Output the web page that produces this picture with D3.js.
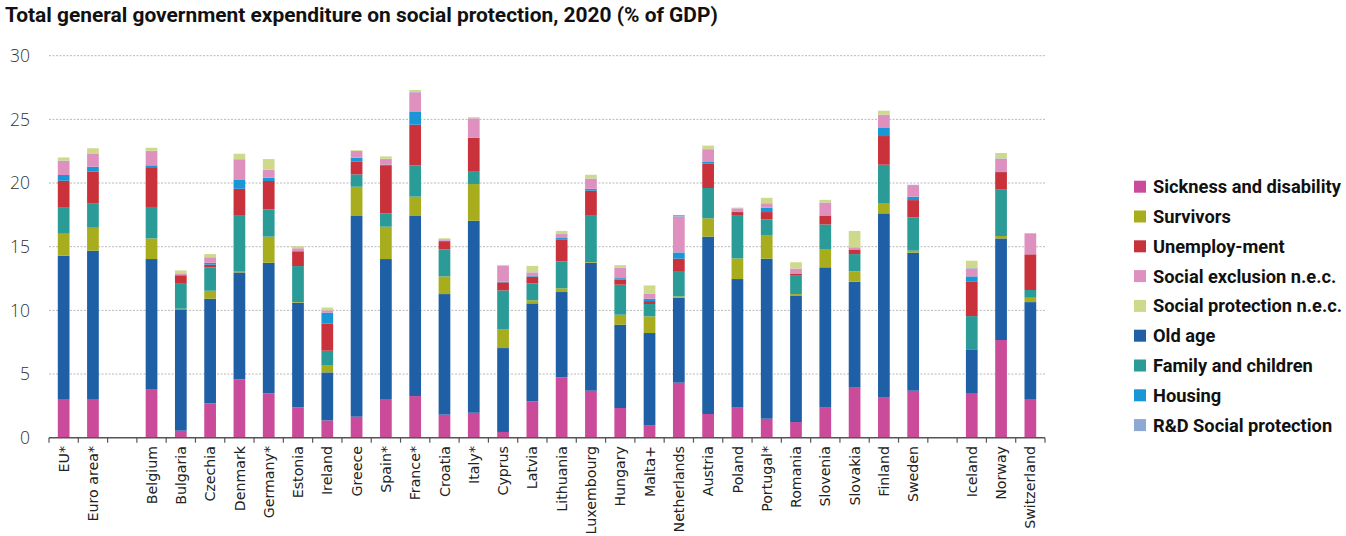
<!DOCTYPE html>
<html>
<head>
<meta charset="utf-8">
<script src="https://cdn.jsdelivr.net/npm/d3@7"></script>
<style>
  html, body { margin: 0; padding: 0; background: #fff; }
  svg { display: block; }
</style>
</head>
<body>
<svg id="chart" width="1346" height="536"></svg>
<script>
// ---------------- DATA ----------------
const title = "Total general government expenditure on social protection, 2020 (% of GDP)";
const countries = ["EU*", "Euro area*", "Belgium", "Bulgaria", "Czechia", "Denmark", "Germany*", "Estonia", "Ireland", "Greece", "Spain*", "France*", "Croatia", "Italy*", "Cyprus", "Latvia", "Lithuania", "Luxembourg", "Hungary", "Malta+", "Netherlands", "Austria", "Poland", "Portugal*", "Romania", "Slovenia", "Slovakia", "Finland", "Sweden", "Iceland", "Norway", "Switzerland"];
// empty slots are inserted before these countries
const gapsBefore = ["Belgium", "Iceland"];
const yTicks = [0, 5, 10, 15, 20, 25, 30];

const sickness     = [3.04, 3.04, 3.82, 0.55, 2.70, 4.58, 3.48, 2.38, 1.36, 1.65, 3.04, 3.27, 1.81, 1.96, 0.45, 2.85, 4.74, 3.69, 2.33, 0.99, 4.32, 1.86, 2.36, 1.49, 1.23, 2.36, 3.93, 3.19, 3.69, 3.51, 7.67, 3.04];
const oldAge       = [11.25, 11.65, 10.21, 9.53, 8.22, 8.40, 10.26, 8.22, 3.77, 15.76, 10.99, 14.14, 9.47, 15.08, 6.59, 7.70, 6.70, 10.05, 6.54, 7.23, 6.67, 13.93, 10.10, 12.57, 9.90, 11.02, 8.32, 14.43, 10.84, 3.43, 7.98, 7.61];
const survivors    = [1.73, 1.80, 1.62, 0.05, 0.62, 0.11, 2.05, 0.05, 0.58, 2.30, 2.54, 1.52, 1.39, 2.88, 1.49, 0.24, 0.29, 0.05, 0.79, 1.31, 0.11, 1.44, 1.62, 1.86, 0.15, 1.44, 0.81, 0.76, 0.16, 0.00, 0.19, 0.34];
const family       = [2.04, 1.89, 2.47, 1.96, 1.84, 4.34, 2.14, 2.83, 1.12, 0.97, 1.05, 2.46, 2.12, 1.02, 3.04, 1.33, 2.12, 3.64, 2.36, 0.97, 1.99, 2.38, 3.35, 1.23, 1.49, 1.93, 1.36, 3.06, 2.61, 2.61, 3.64, 0.61];
const unemployment = [2.12, 2.51, 3.06, 0.66, 0.21, 2.12, 2.23, 1.15, 2.12, 1.02, 3.72, 3.19, 0.58, 2.62, 0.63, 0.52, 1.73, 1.97, 0.41, 0.23, 0.97, 1.93, 0.29, 0.57, 0.11, 0.66, 0.32, 2.25, 1.36, 2.73, 1.38, 2.80];
const housing      = [0.45, 0.39, 0.21, 0.02, 0.15, 0.69, 0.26, 0.03, 0.87, 0.29, 0.10, 1.00, 0.10, 0.00, 0.05, 0.05, 0.10, 0.15, 0.10, 0.19, 0.49, 0.11, 0.05, 0.34, 0.03, 0.05, 0.05, 0.68, 0.27, 0.39, 0.05, 0.00];
const exclusion    = [1.10, 1.02, 1.12, 0.13, 0.42, 1.62, 0.60, 0.21, 0.18, 0.52, 0.44, 1.54, 0.11, 1.52, 1.26, 0.29, 0.31, 0.79, 0.82, 0.39, 2.81, 0.99, 0.24, 0.34, 0.37, 1.00, 0.16, 0.97, 0.91, 0.60, 1.00, 1.65];
const rdSocial     = [0.03, 0.03, 0.02, 0.01, 0.02, 0.02, 0.02, 0.01, 0.01, 0.01, 0.02, 0.03, 0.01, 0.01, 0.01, 0.01, 0.01, 0.02, 0.02, 0.02, 0.13, 0.03, 0.01, 0.02, 0.01, 0.02, 0.01, 0.03, 0.02, 0.05, 0.03, 0.00];
const spNec        = [0.25, 0.40, 0.24, 0.23, 0.24, 0.42, 0.84, 0.16, 0.21, 0.06, 0.19, 0.16, 0.07, 0.08, 0.05, 0.50, 0.24, 0.29, 0.18, 0.63, 0.00, 0.27, 0.05, 0.42, 0.49, 0.20, 1.28, 0.31, 0.00, 0.58, 0.42, 0.00];

// series: key, legend label, values, colour (stack order = array order)
const series = [
  {key: "sickness",     label: "Sickness and disability",  values: sickness,     color: "#cb4b9b"},
  {key: "oldAge",       label: "Old age",                  values: oldAge,       color: "#1f5fa6"},
  {key: "survivors",    label: "Survivors",                values: survivors,    color: "#a7ad1d"},
  {key: "family",       label: "Family and children",      values: family,       color: "#2b9b97"},
  {key: "unemployment", label: "Unemploy-ment",            values: unemployment, color: "#c9313b"},
  {key: "housing",      label: "Housing",                  values: housing,      color: "#1896d6"},
  {key: "exclusion",    label: "Social exclusion n.e.c.",  values: exclusion,    color: "#de90bf"},
  {key: "rd",           label: "R&D Social protection",    values: rdSocial,     color: "#8ea7d3"},
  {key: "spNec",        label: "Social protection n.e.c.", values: spNec,        color: "#cfd98c"}
];
const legendOrder = ["sickness", "survivors", "unemployment", "exclusion", "spNec", "oldAge", "family", "housing", "rd"];

// ---------------- BUILD ----------------
const slots = [];
countries.forEach((c, i) => {
  if (gapsBefore.includes(c)) slots.push({id: "gap" + slots.length, label: "", idx: -1});
  slots.push({id: c, label: c, idx: i});
});

const rows = countries.map((c, i) => {
  const r = {country: c};
  series.forEach(s => r[s.key] = s.values[i]);
  return r;
});

const svg = d3.select("#chart");
const plotLeft = 49, plotRight = 1045, plotTop = 55.7, plotBottom = 437.7;

const x = d3.scaleBand()
  .domain(slots.map(s => s.id))
  .range([plotLeft, plotRight])
  .paddingInner(0.6)
  .paddingOuter(0.3);
const y = d3.scaleLinear().domain([0, 30]).range([plotBottom, plotTop]);

// title
const titleText = svg.append("text")
  .attr("x", 5).attr("y", 22)
  .attr("font-family", "Roboto, 'Open Sans', sans-serif")
  .attr("font-weight", 700)
  .attr("font-size", 17)
  .attr("fill", "#111")
  .text(title);
{
  const w = titleText.node().getComputedTextLength();
  titleText.attr("font-size", 17 * 713 / w);
}

// gridlines
svg.append("g").selectAll("line")
  .data(yTicks.filter(t => t > 0))
  .join("line")
  .attr("x1", plotLeft).attr("x2", plotRight)
  .attr("y1", d => y(d)).attr("y2", d => y(d))
  .attr("stroke", "#b9b9b9")
  .attr("stroke-width", 1)
  .attr("stroke-dasharray", "2,1.5");

// y labels
svg.append("g").selectAll("text")
  .data(yTicks)
  .join("text")
  .attr("x", 30).attr("y", d => y(d))
  .attr("dy", "0.36em")
  .attr("text-anchor", "end")
  .attr("font-family", "'Open Sans', sans-serif")
  .attr("font-weight", 300)
  .attr("font-size", 17.5)
  .attr("fill", "#333")
  .text(d => d);

// stacked bars
const stack = d3.stack().keys(series.map(s => s.key));
const stacked = stack(rows);
const colorOf = Object.fromEntries(series.map(s => [s.key, s.color]));

svg.append("g").selectAll("g")
  .data(stacked)
  .join("g")
  .attr("fill", d => colorOf[d.key])
  .selectAll("rect")
  .data(d => d)
  .join("rect")
  .attr("x", d => x(d.data.country))
  .attr("width", x.bandwidth())
  .attr("y", d => y(d[1]))
  .attr("height", d => Math.max(0, y(d[0]) - y(d[1])));

// x axis line + boundary ticks
const step = x.step();
const axisG = svg.append("g");
axisG.append("line")
  .attr("x1", plotLeft).attr("x2", plotRight)
  .attr("y1", plotBottom).attr("y2", plotBottom)
  .attr("stroke", "#555").attr("stroke-width", 1.5);
const boundaries = slots.map(s => x(s.id) - step * x.paddingInner() / 2);
boundaries.push(x(slots[slots.length - 1].id) + x.bandwidth() + step * x.paddingInner() / 2);
axisG.selectAll("line.tick")
  .data(boundaries.map(b => Math.max(plotLeft, Math.min(plotRight, b))))
  .join("line")
  .attr("class", "tick")
  .attr("x1", d => d).attr("x2", d => d)
  .attr("y1", plotBottom).attr("y2", plotBottom + 5)
  .attr("stroke", "#555").attr("stroke-width", 1.2);

// x labels
svg.append("g").selectAll("text")
  .data(slots.filter(s => s.label))
  .join("text")
  .attr("transform", d => `translate(${x(d.id) + x.bandwidth() / 2},446) rotate(-90)`)
  .attr("dy", "0.36em")
  .attr("text-anchor", "end")
  .attr("font-family", "'DejaVu Sans', sans-serif")
  .attr("font-size", 14.2)
  .attr("fill", "#222")
  .text(d => d.label);

// legend
const legend = svg.append("g");
const legItems = legendOrder.map(k => series.find(s => s.key === k));
const lg = legend.selectAll("g")
  .data(legItems)
  .join("g")
  .attr("transform", (d, i) => `translate(1134,${186.7 + i * 29.8})`);
lg.append("rect")
  .attr("x", 0).attr("y", -6).attr("width", 12).attr("height", 12)
  .attr("fill", d => d.color);
const legTexts = lg.append("text")
  .attr("x", 19).attr("y", 0)
  .attr("dy", "0.36em")
  .attr("font-family", "Roboto, 'Open Sans', sans-serif")
  .attr("font-weight", 700)
  .attr("font-size", 17)
  .attr("fill", "#111")
  .text(d => d.label);
{
  const w = legTexts.filter((d, i) => i === 0).node().getComputedTextLength();
  legTexts.attr("font-size", 17 * 188 / w);
}
</script>
</body>
</html>
